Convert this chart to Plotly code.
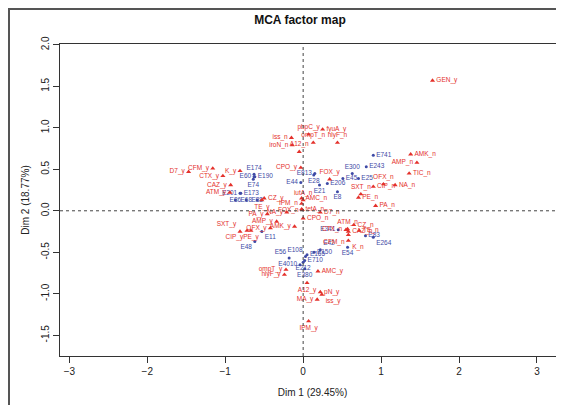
import plotly.graph_objects as go

# ---- data (categories: red triangles) ----
cat_labels = ["GEN_y","pbpC_y","fyuA_y","ompT_n","hlyF_n","iss_n","iroN_n","A12_n","CPO_y",
              "D7_y","CFM_y","CTX_y","K_y","CAZ_y","ATM_y","CZ_y","TE_y","PA_y",
              "FOX_y","OFX_n","CIP_n","SXT_n","NA_n","PE_n","PA_n","AMK_n","AMP_n","TIC_n",
              "AMC_n","iutA_n","D7_n","IPM_n","NA_y","FOX_n","tetA_n","CPO_n",
              "ATM_n","CZ_n","CTX_n","CAZ_n","TE_n","CFM_n","K_n",
              "SXT_y","CIP_y","PE_y","OFX_y","AMP_y","AMK_y",
              "ompT_y","hlyF_y","AMC_y","A12_y","pN_y","MA_y","iss_y","IPM_y"]
cat_x = [1.66,0.07,0.25,0.13,0.44,-0.15,-0.14,-0.05,-0.03,
         -1.47,-1.16,-1.03,-0.81,-0.93,-0.94,-0.50,-0.53,-0.46,
         0.34,1.03,0.90,0.74,1.18,0.71,0.93,1.38,1.46,1.36,
         -0.02,0.00,0.22,-0.02,-0.21,-0.01,-0.02,0.00,
         0.57,0.65,0.55,0.58,0.72,0.58,0.58,
         -0.81,-0.72,-0.67,-0.42,-0.34,-0.11,
         -0.22,-0.24,0.19,0.05,0.22,0.18,0.24,0.07]
cat_y = [1.57,0.92,0.98,0.82,0.82,0.88,0.79,0.71,0.52,
         0.47,0.51,0.42,0.48,0.31,0.22,0.15,0.13,-0.04,
         0.38,0.32,0.29,0.20,0.31,0.16,0.06,0.68,0.58,0.45,
         0.15,0.13,-0.02,0.085,-0.02,0.01,0.02,-0.09,
         -0.22,-0.17,-0.23,-0.25,-0.24,-0.29,-0.36,
         -0.25,-0.24,-0.24,-0.21,-0.13,-0.19,
         -0.71,-0.77,-0.73,-0.87,-0.98,-1.07,-1.01,-1.33]

# ---- data (individuals: blue dots) ----
ind_labels = ["E741","E243","E300","E45","E25","E813","E28","E206","E21","E8","E44",
              "E174","E60","E190","E74","E201","E173","E86","E68","E88",
              "E11","E48","E56","E108","E165","E150","E42","E710","E4010","E212","E380",
              "E54","E341","E83","E264"]
ind_x = [0.90,0.81,0.63,0.51,0.71,0.15,0.136,0.31,0.21,0.44,-0.03,
         -0.63,-0.63,-0.62,-0.64,-0.81,-0.80,-0.87,-0.73,-0.59,
         -0.53,-0.62,-0.18,0.03,0.05,0.14,0.22,0.02,-0.04,0.00,0.02,
         0.57,0.45,0.80,0.90]
ind_y = [0.67,0.53,0.45,0.39,0.39,0.45,0.43,0.33,0.31,0.23,0.34,
         0.44,0.41,0.41,0.38,0.21,0.21,0.13,0.13,0.13,
         -0.25,-0.37,-0.57,-0.55,-0.53,-0.50,-0.47,-0.60,-0.65,-0.62,-0.70,
         -0.44,-0.23,-0.30,-0.32]

# ---- style (label placement) ----
cat_pos = ["middle right","top center","middle right","top center","top center","middle left","middle left","top center","middle left",
           "middle left","middle left","middle left","middle left","middle left","middle left","middle right","bottom center","middle left",
           "top center","top center","middle right","top center","middle right","middle right","middle right","middle right","middle left","middle right",
           "middle right","top center","middle right","middle left","middle left","middle left","middle right","middle right",
           "top center","middle right","middle left","middle right","middle right","bottom left","bottom right",
           "top left","bottom left","bottom center","middle left","middle left","middle left",
           "middle left","middle left","middle right","bottom center","middle right","middle left","bottom right","bottom center"]
ind_pos = ["middle right","middle right","top center","middle right","middle right","middle left","bottom center","middle right","bottom center","bottom center","middle left",
           "top center","middle left","middle right","bottom center","middle left","middle right","middle center","middle center","middle center",
           "bottom right","bottom left","top left","top left","middle right","middle right","top right","middle right","middle left","bottom center","bottom center",
           "bottom center","middle left","middle right","bottom right"]

RED = "#e4312b"
BLUE = "#3e4aa6"
LBL = 6.5

fig = go.Figure()
fig.add_trace(go.Scatter(x=ind_x, y=ind_y, mode="markers+text", text=ind_labels,
                         textposition=ind_pos, cliponaxis=False,
                         marker=dict(color=BLUE, size=3, symbol="circle"),
                         textfont=dict(color=BLUE, size=LBL, family="Liberation Sans, Arial"),
                         showlegend=False, hoverinfo="text"))
fig.add_trace(go.Scatter(x=cat_x, y=cat_y, mode="markers+text", text=cat_labels,
                         textposition=cat_pos, cliponaxis=False,
                         marker=dict(color=RED, size=4.5, symbol="triangle-up"),
                         textfont=dict(color=RED, size=LBL, family="Liberation Sans, Arial"),
                         showlegend=False, hoverinfo="text"))

fig.add_hline(y=0, line=dict(color="#444", width=1, dash="3px,3px"))
fig.add_vline(x=0, line=dict(color="#444", width=1, dash="3px,3px"))

# outer image frame
L, R, T, B = 52, 7, 36, 57
W, H = 564, 405
pw, ph = W - L - R, H - T - B
fig.add_shape(type="rect", xref="paper", yref="paper",
              x0=(1 - L) / pw, x1=(W - 1 - L) / pw,
              y0=-(B - 1) / ph, y1=(ph + T - 1) / ph,
              line=dict(color="#555", width=2), fillcolor="rgba(0,0,0,0)", layer="above")

axis_common = dict(showgrid=False, zeroline=False, showline=True, mirror=True,
                   linecolor="#333", linewidth=1, ticks="outside", ticklen=6,
                   tickcolor="#333", tickfont=dict(size=10, color="#222", family="Liberation Sans, Arial"))
fig.update_xaxes(range=[-3.12, 3.36], tickvals=[-3, -2, -1, 0, 1, 2, 3],
                 title=dict(text="Dim 1 (29.45%)", font=dict(size=10, color="#222"), standoff=12),
                 **axis_common)
fig.update_yaxes(range=[-1.75, 2.01], tickvals=[-1.5, -1.0, -0.5, 0.0, 0.5, 1.0, 1.5, 2.0],
                 ticktext=["-1.5", "-1.0", "-0.5", "0.0", "0.5", "1.0", "1.5", "2.0"],
                 tickangle=-90,
                 title=dict(text="Dim 2 (18.77%)", font=dict(size=10, color="#222"), standoff=8),
                 **axis_common)

fig.update_layout(width=W, height=H, margin=dict(l=L, r=R, t=T, b=B),
                  plot_bgcolor="white", paper_bgcolor="white",
                  title=dict(text="<b>MCA factor map</b>", x=(W/2 + 10) / W, xanchor="center",
                             y=1 - 12 / H, yanchor="middle",
                             font=dict(size=12, color="#111", family="Liberation Sans, Arial")),
                  font=dict(family="Liberation Sans, Arial"))

fig.write_html("out.html")
